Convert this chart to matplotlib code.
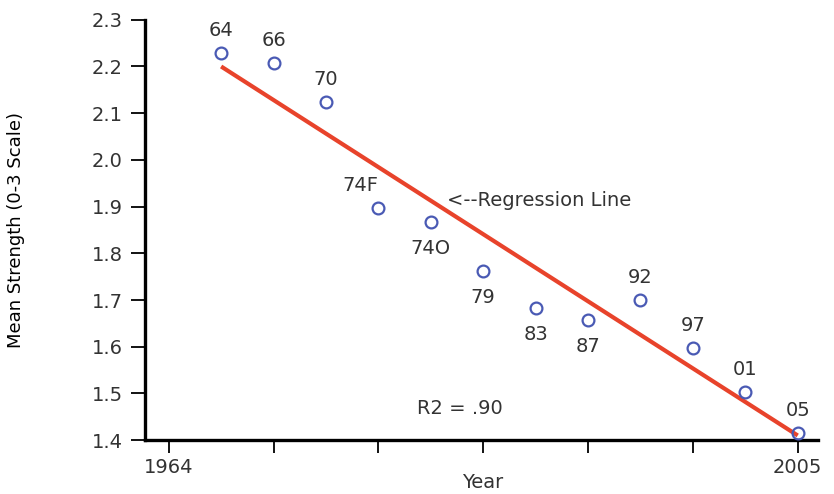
import numpy as np
import matplotlib.pyplot as plt

# survey waves, in order (evenly spaced on the x axis)
wave_labels = ["64", "66", "70", "74F", "74O", "79", "83", "87", "92", "97", "01", "05"]
mean_strength = [2.229, 2.207, 2.124, 1.897, 1.867, 1.762, 1.683, 1.657, 1.701, 1.598, 1.503, 1.416]
label_above = [True, True, True, True, False, False, False, False, True, True, True, True]

# regression line end points (first wave -> last wave)
reg_y = [2.20, 1.41]

year_ticklabels = ["1964", "", "", "", "", "", "2005"]
y_ticks = [1.4, 1.5, 1.6, 1.7, 1.8, 1.9, 2.0, 2.1, 2.2, 2.3]

plt.rcParams['font.family'] = ['DejaVu Sans']
text_col = '#333333'
fs = 14

fig = plt.figure(figsize=(8.34, 4.94), dpi=100)
ax = fig.add_axes([0.174, 0.109, 0.807, 0.851])

x = np.arange(len(wave_labels))

ax.plot([x[0], x[-1]], reg_y, color='#e8432b', lw=3, solid_capstyle='butt', zorder=2)
ax.plot(x, mean_strength, 'o', ms=8.5, mfc='none', mec='#4a5ab4', mew=1.6, zorder=3)

for xi, yi, lab, up in zip(x, mean_strength, wave_labels, label_above):
    dx = -0.35 if lab == "74F" else 0
    dy = 16 if up else -19
    ax.annotate(lab, (xi + dx, yi), xytext=(0, dy), textcoords='offset points',
                ha='center', va='center', fontsize=fs, color=text_col)

ax.text(4.31, 1.914, "<--Regression Line", ha='left', va='center', fontsize=fs, color=text_col)
ax.text(4.56, 1.468, "R2 = .90", ha='center', va='center', fontsize=fs, color=text_col)

ax.set_xlim(-1.45, 11.39)
ax.set_ylim(1.4, 2.3)
ax.set_xticks(np.arange(-1, 12, 2))
ax.set_xticklabels(year_ticklabels)
ax.set_yticks(y_ticks)
ax.set_yticklabels([f"{v:.1f}" for v in y_ticks])

for s in ['top', 'right']:
    ax.spines[s].set_visible(False)
for s in ['left', 'bottom']:
    ax.spines[s].set_linewidth(2.4)
    ax.spines[s].set_color('black')

ax.tick_params(axis='y', length=10, width=1.3, pad=6, labelsize=fs, labelcolor=text_col)
ax.tick_params(axis='x', length=9, width=1.3, pad=4, labelsize=fs, labelcolor=text_col)

ax.set_xlabel("Year", fontsize=fs, color=text_col)
ax.xaxis.set_label_coords(0.502, -0.078)
ax.set_ylabel("Mean Strength (0-3 Scale)", fontsize=13, color='black')
ax.yaxis.set_label_coords(-0.178, 0.5)

fig.savefig("out.png", dpi=100)
